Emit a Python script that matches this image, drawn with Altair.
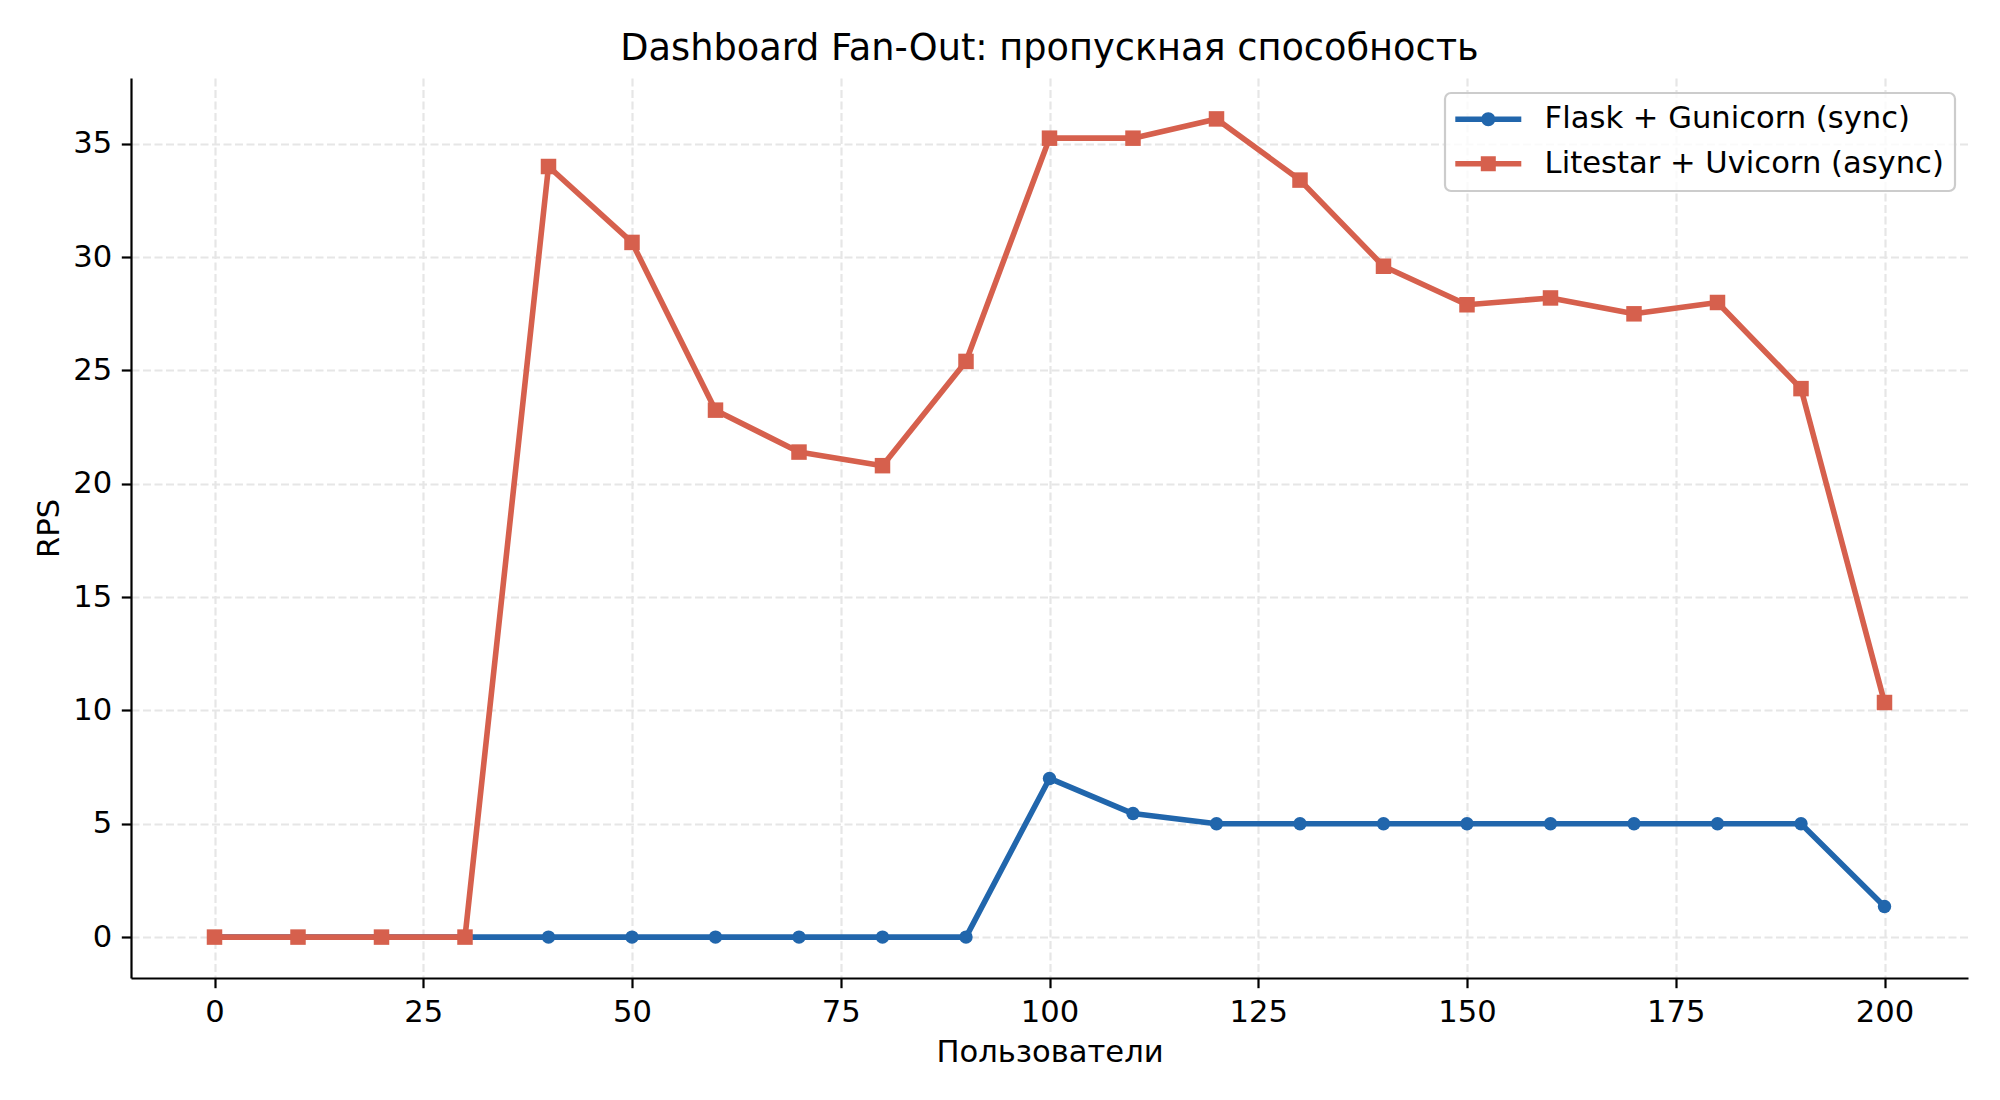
import sys
import altair as alt
import pandas as pd

users = [0, 10, 20, 30, 40, 50, 60, 70, 80, 90, 100, 110, 120, 130, 140, 150, 160, 170, 180, 190, 200]
flask_rps = [0, 0, 0, 0, 0, 0, 0, 0, 0, 0, 7.0, 5.45, 5.0, 5.0, 5.0, 5.0, 5.0, 5.0, 5.0, 5.0, 1.35]
litestar_rps = [0, 0, 0, 0, 34.0, 30.65, 23.25, 21.4, 20.8, 25.4, 35.25, 35.25, 36.1, 33.4, 29.6,
                27.9, 28.2, 27.5, 28.0, 24.2, 10.35]
series_names = ["Flask + Gunicorn (sync)", "Litestar + Uvicorn (async)"]
series_colors = ["#2166ac", "#d6604d"]
x_ticks = [0, 25, 50, 75, 100, 125, 150, 175, 200]
y_ticks = [0, 5, 10, 15, 20, 25, 30, 35]
title_text = "Dashboard Fan-Out: пропускная способность"
x_title = "Пользователи"
y_title = "RPS"

rows = []
for u, v in zip(users, flask_rps):
    rows.append({"users": u, "rps": v, "series": series_names[0]})
for u, v in zip(users, litestar_rps):
    rows.append({"users": u, "rps": v, "series": series_names[1]})
df = pd.DataFrame(rows)

FONT = "DejaVu Sans"
FS = 30.6        # 11pt at 200 dpi
TITLE_FS = 36.7  # 13.2pt

# legend handles: line segment + marker (custom symbol paths)
line_part = "M-1.143,-0.2H3.571V0.2H-1.143Z"
circle_part = "M1.714,0A0.5,0.5,0,1,1,0.714,0A0.5,0.5,0,1,1,1.714,0Z"
square_part = "M0.678,-0.536H1.75V0.536H0.678Z"
legend_shapes = [line_part + " " + circle_part, line_part + " " + square_part]


def is_valid(cls, key, val):
    try:
        cls(**{key: val}).to_dict(validate=True)
        return True
    except Exception:
        return False


legend_wanted = dict(
    orient="none", legendX=1314, legendY=15,
    symbolSize=784, symbolStrokeWidth=0, symbolOpacity=1, labelOffset=58,
    labelFont=FONT, labelFontSize=FS, labelColor="black", labelLimit=800,
    padding=11, rowPadding=13.4,
    strokeColor="#cccccc", strokeWidth=2.2, cornerRadius=6,
    fillColor="rgba(255,255,255,0.8)",
)
legend_kw = {}
legend_cfg = {}
dropped = []
for k, v in legend_wanted.items():
    if is_valid(alt.Legend, k, v):
        legend_kw[k] = v
    elif is_valid(alt.LegendConfig, k, v):
        legend_cfg[k] = v
    else:
        dropped.append(k)
print("legend dropped:", dropped, "to config:", list(legend_cfg), file=sys.stderr)

axis_common = dict(
    grid=True, gridDash=[8, 3.5], gridColor="#e6e6e6", gridWidth=2.2,
    labelFontSize=FS, labelFont=FONT, labelColor="black",
    tickSize=9.7, tickWidth=2.2, tickColor="black",
    domainColor="black", domainWidth=2.2, labelPadding=9.7,
    titleFontSize=FS, titleFont=FONT, titleFontWeight="normal", titleColor="black",
    titleBaseline="alphabetic", labelFlush=False, labelOverlap=False, format="d",
)

x_enc = alt.X("users:Q", scale=alt.Scale(domain=[-10, 210], nice=False, zero=False),
              axis=alt.Axis(values=x_ticks, title=x_title, titleY=83, **axis_common))
y_enc = alt.Y("rps:Q", scale=alt.Scale(domain=[-1.805, 37.905], nice=False, zero=False),
              axis=alt.Axis(values=y_ticks, title=y_title, titleX=-72.7, **axis_common))
color_scale = alt.Scale(domain=series_names, range=series_colors)
shape_scale = alt.Scale(domain=series_names, range=legend_shapes)

legend = alt.Legend(title=None, **legend_kw)

base = alt.Chart(df)

# empty layer that only carries the legend (line + marker handles)
legend_layer = base.mark_point(filled=True, opacity=1).encode(
    x=x_enc, y=y_enc,
    color=alt.Color("series:N", scale=color_scale, legend=legend),
    shape=alt.Shape("series:N", scale=shape_scale, legend=legend),
).transform_filter("false")

flask_points = base.mark_point(filled=True, shape="circle", size=180, opacity=1).encode(
    x=x_enc, y=y_enc, color=alt.Color("series:N", scale=color_scale)
).transform_filter(alt.datum.series == series_names[0])

flask_line = base.mark_line(strokeWidth=5.6, strokeJoin="round").encode(
    x=x_enc, y=y_enc, color=alt.Color("series:N", scale=color_scale)
).transform_filter(alt.datum.series == series_names[0])

lite_line = base.mark_line(strokeWidth=5.6, strokeJoin="round").encode(
    x=x_enc, y=y_enc, color=alt.Color("series:N", scale=color_scale)
).transform_filter(alt.datum.series == series_names[1])

lite_points = base.mark_point(filled=True, shape="square", size=240, opacity=1).encode(
    x=x_enc, y=y_enc, color=alt.Color("series:N", scale=color_scale)
).transform_filter(alt.datum.series == series_names[1])

title_kw = dict(text=title_text, font=FONT, fontSize=TITLE_FS, fontWeight="normal",
                color="black", anchor="middle", frame="group", baseline="alphabetic")
if is_valid(alt.TitleParams, "offset", -18.7):
    title_kw["offset"] = -18.7
else:
    title_kw["offset"] = 16.3
    title_kw["dy"] = 35

chart = alt.layer(legend_layer, flask_points, flask_line, lite_line, lite_points).properties(
    width=1837, height=900,
    autosize=alt.AutoSizeParams(type="none"),
    padding={"left": 123, "top": 70, "right": 24, "bottom": 100},
    title=alt.TitleParams(**title_kw),
).configure(background="white").configure_view(stroke=None, strokeWidth=0)
if legend_cfg:
    chart = chart.configure_legend(**legend_cfg)

chart.save("out.html", embed_options={"renderer": "svg", "actions": False})
